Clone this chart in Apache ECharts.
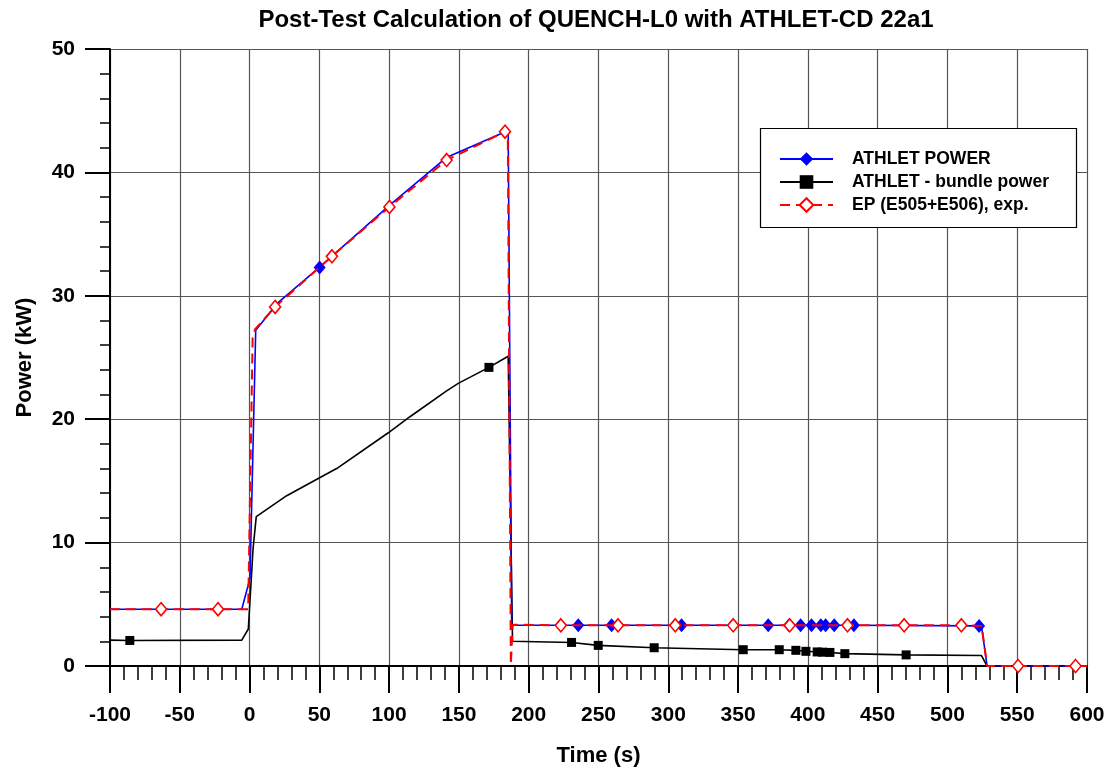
<!DOCTYPE html>
<html>
<head>
<meta charset="utf-8">
<title>QUENCH-L0 Power</title>
<script src="https://cdn.jsdelivr.net/npm/echarts@6/dist/echarts.min.js"></script>
<style>
  html, body { margin: 0; padding: 0; background: #fff; }
  #chart { width: 1112px; height: 772px; }
</style>
</head>
<body>
<div id="chart"></div>
<script>
// Time (s) / power (kW) pairs along each curve
const athletPowerCurve = [[-100,4.6],[-5.6,4.6],[0.3,7.1],[4.4,27.2],[20,29.4],[50,32.3],[100,37.3],[141,41.2],[185.3,43.4],[187.8,3.3],[524.4,3.25],[528.4,0],[600,0]];
const athletPowerMarks = [[50.2,32.3],[235.5,3.3],[259.4,3.3],[309.5,3.3],[371.6,3.3],[386.5,3.3],[394.8,3.3],[402.6,3.3],[409.3,3.3],[412.7,3.3],[418.9,3.3],[433,3.3],[522.7,3.25]];

const bundlePowerCurve = [[-100,2.1],[-5.6,2.1],[-0.9,3.0],[2.5,9.5],[4.8,12.1],[26.6,13.8],[49.2,15.2],[62.4,16.0],[99.4,18.9],[114.9,20.2],[141.2,22.3],[149.5,22.9],[185.3,25.1],[188.4,2.0],[524.4,0.85],[528.4,0],[600,0]];
const bundlePowerMarks = [[-85.8,2.07],[171.5,24.2],[230.7,1.91],[249.8,1.67],[289.9,1.48],[353.7,1.32],[379.5,1.32],[391.4,1.27],[398.6,1.19],[406.7,1.14],[410.5,1.12],[415.8,1.1],[426.5,1.0],[470.4,0.9]];

const expPowerCurve = [[-100,4.6],[-1,4.6],[2.2,26.6],[4,27.3],[185,43.4],[187.2,0.1],[188.5,3.35],[524.5,3.25],[528.5,0],[600,0]];
const expPowerMarks = [[-63.4,4.6],[-22.6,4.6],[18.3,29.1],[59,33.2],[100.2,37.2],[141.2,41.0],[183,43.3],[223,3.3],[264,3.3],[305,3.3],[346.5,3.3],[387,3.3],[428.4,3.3],[469,3.3],[510,3.3],[550.6,0],[591.8,0]];

const seriesNames = ['ATHLET POWER', 'ATHLET - bundle power', 'EP (E505+E506), exp.'];
const xTicks = { min: -100, max: 600, step: 50 };
const yTicks = { min: 0, max: 50, step: 10 };

// Merge curve breakpoints with marker points; only marker points get a symbol.
function buildData(curve, marks) {
  const items = curve.map(p => ({ t: p[0], v: p[1], mark: false }));
  marks.forEach(p => {
    const same = items.find(it => Math.abs(it.t - p[0]) < 1e-9);
    if (same) { same.mark = true; same.v = p[1]; }
    else items.push({ t: p[0], v: p[1], mark: true });
  });
  items.sort((a, b) => a.t - b.t);
  return items.map(it => it.mark ? { value: [it.t, it.v] } : { value: [it.t, it.v], symbol: 'none' });
}

const FONT = '"Liberation Sans", Arial, sans-serif';
const chart = echarts.init(document.getElementById('chart'), null, { renderer: 'canvas' });

chart.setOption({
  animation: false,
  backgroundColor: '#fff',
  grid: { left: 110, right: 25, top: 49, bottom: 104, containLabel: false },
  graphic: [
    {
      type: 'text', x: 596, y: 20, z: 10,
      style: { text: 'Post-Test Calculation of QUENCH-L0 with ATHLET-CD 22a1', align: 'center', verticalAlign: 'middle', font: 'bold 24px ' + FONT, fill: '#000' }
    },
    {
      type: 'rect', z: 5,
      shape: { x: 760.5, y: 128.5, width: 316, height: 99 },
      style: { fill: '#fff', stroke: '#000', lineWidth: 1.2 }
    }
  ],
  legend: {
    orient: 'vertical',
    left: 774, top: 145,
    z: 10,
    itemWidth: 53, itemHeight: 17, itemGap: 5, itemTextGap: 30,
    textStyle: { fontFamily: FONT, fontSize: 17.5, fontWeight: 'bold', color: '#000', padding: [0, 0, 0, 14] },
    data: seriesNames
  },
  xAxis: {
    type: 'value',
    min: xTicks.min, max: xTicks.max, interval: xTicks.step,
    name: 'Time (s)', nameLocation: 'middle', nameGap: 79,
    nameTextStyle: { fontFamily: FONT, fontSize: 22, fontWeight: 'bold', color: '#000' },
    axisLine: { show: true, onZero: false, lineStyle: { color: '#000', width: 2 } },
    axisTick: { show: true, inside: false, length: 27, lineStyle: { color: '#000', width: 2 } },
    minorTick: { show: true, splitNumber: 5, length: 14, lineStyle: { color: '#000', width: 1.5 } },
    axisLabel: { margin: 39, fontFamily: FONT, fontSize: 21, fontWeight: 'bold', color: '#000' },
    splitLine: { show: true, lineStyle: { color: '#555', width: 1.2 } }
  },
  yAxis: {
    type: 'value',
    min: yTicks.min, max: yTicks.max, interval: yTicks.step,
    name: 'Power (kW)', nameLocation: 'middle', nameGap: 74,
    nameTextStyle: { fontFamily: FONT, fontSize: 22, fontWeight: 'bold', color: '#000' },
    axisLine: { show: true, onZero: false, lineStyle: { color: '#000', width: 2 } },
    axisTick: { show: true, inside: false, length: 25, lineStyle: { color: '#000', width: 2 } },
    minorTick: { show: true, splitNumber: 5, length: 10, lineStyle: { color: '#000', width: 1.5 } },
    axisLabel: { margin: 35, fontFamily: FONT, fontSize: 21, fontWeight: 'bold', color: '#000' },
    splitLine: { show: true, lineStyle: { color: '#555', width: 1.2 } }
  },
  series: [
    {
      name: seriesNames[1], type: 'line', z: 3,
      data: buildData(bundlePowerCurve, bundlePowerMarks),
      symbol: 'rect', symbolSize: 9, showSymbol: true,
      lineStyle: { color: '#000', width: 1.6 },
      itemStyle: { color: '#000' },
      emphasis: { disabled: true }
    },
    {
      name: seriesNames[0], type: 'line', z: 4,
      data: buildData(athletPowerCurve, athletPowerMarks),
      symbol: 'diamond', symbolSize: [12, 14], showSymbol: true,
      lineStyle: { color: '#0000ff', width: 1.6 },
      itemStyle: { color: '#0000ff' },
      emphasis: { disabled: true }
    },
    {
      name: seriesNames[2], type: 'line', z: 5,
      data: buildData(expPowerCurve, expPowerMarks),
      symbol: 'diamond', symbolSize: [11, 13], showSymbol: true,
      lineStyle: { color: '#ff0000', width: 2, type: [10, 6] },
      itemStyle: { color: '#fff', borderColor: '#ff0000', borderWidth: 1.6 },
      emphasis: { disabled: true }
    }
  ]
});
</script>
</body>
</html>
